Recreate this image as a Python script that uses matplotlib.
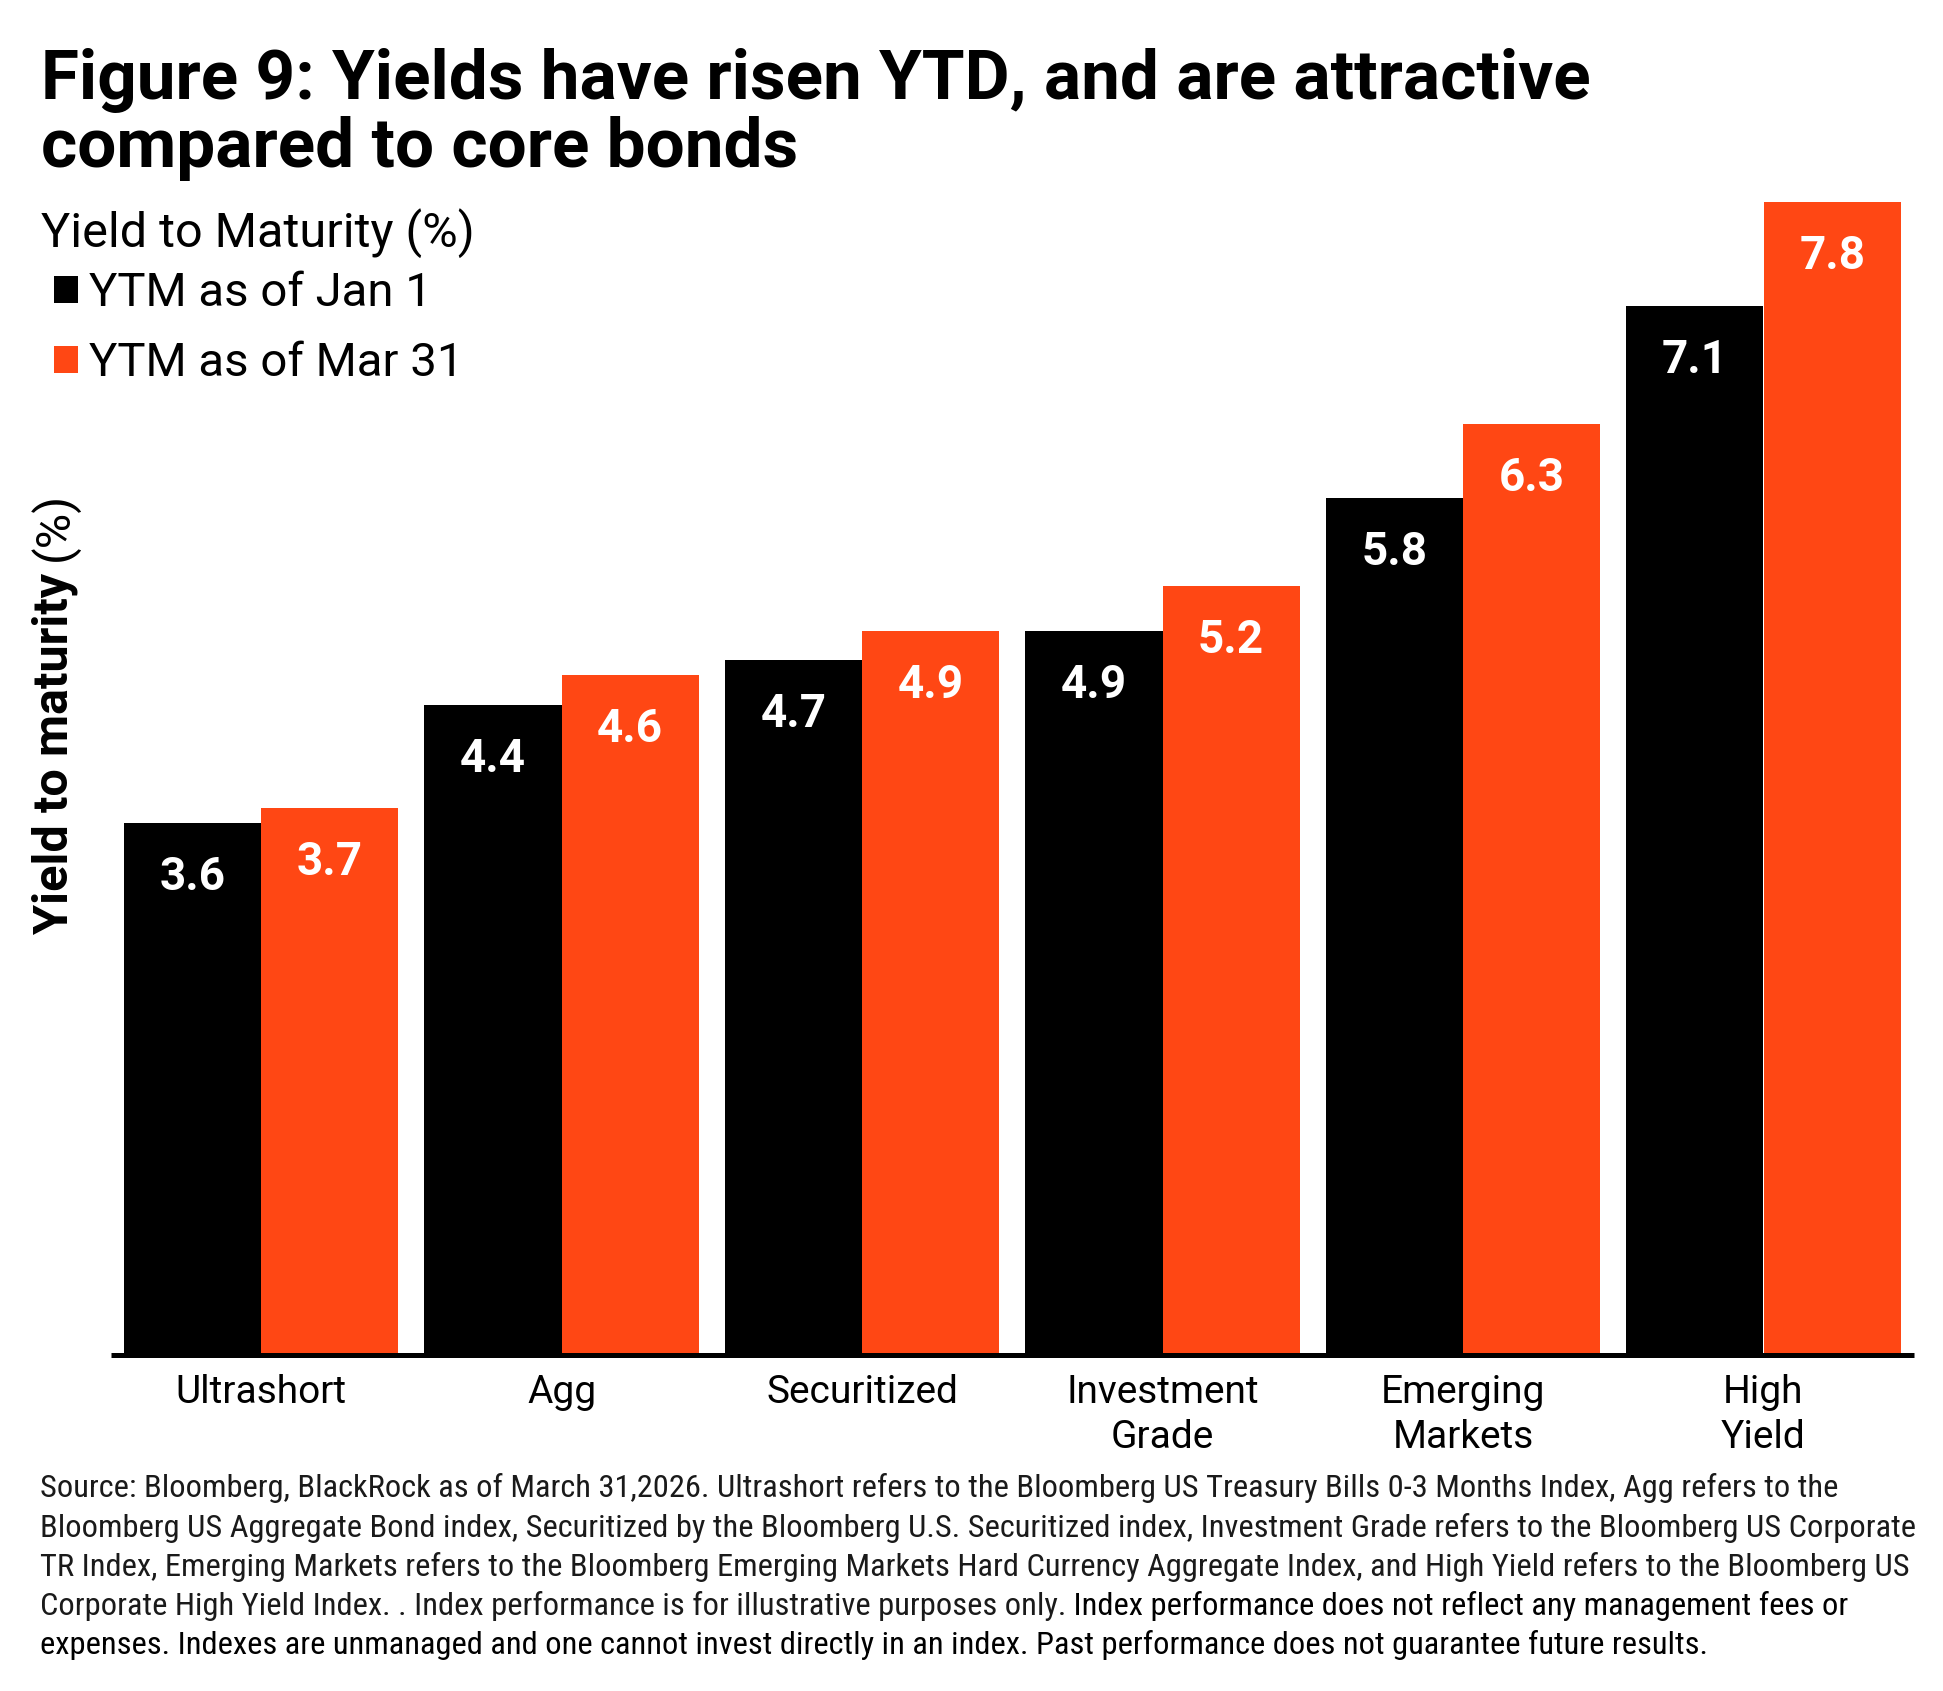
import matplotlib
matplotlib.use('Agg')
import numpy as np
import matplotlib.pyplot as plt
from matplotlib import font_manager


CATEGORIES = ['Ultrashort', 'Agg', 'Securitized', 'Investment\nGrade', 'Emerging\nMarkets', 'High\nYield']
YTM_JAN_1 = [3.6, 4.4, 4.7, 4.9, 5.8, 7.1]
YTM_MAR_31 = [3.7, 4.6, 4.9, 5.2, 6.3, 7.8]
SERIES_NAMES = ['YTM as of Jan 1', 'YTM as of Mar 31']

TITLE_LINES = ['Figure 9: Yields have risen YTD, and are attractive', 'compared to core bonds']
LEGEND_TITLE = 'Yield to Maturity (%)'
Y_LABEL_BOLD = 'Yield to maturity'
Y_LABEL_UNIT = '(%)'
FOOTNOTE_LINES = [
	'Source: Bloomberg, BlackRock as of March 31,2026. Ultrashort refers to the Bloomberg US Treasury Bills 0-3 Months Index, Agg refers to the',
	'Bloomberg US Aggregate Bond index, Securitized by the Bloomberg U.S. Securitized index, Investment Grade refers to the Bloomberg US Corporate',
	'TR Index, Emerging Markets refers to the Bloomberg Emerging Markets Hard Currency Aggregate Index, and High Yield refers to the Bloomberg US',
	'Corporate High Yield Index. . Index performance is for illustrative purposes only.',
	'expenses. Indexes are unmanaged and one cannot invest directly in an index. Past performance does not guarantee future results.',
]
FOOTNOTE_TAIL = ' Index performance does not reflect any management fees or'

WIDTH_PX, HEIGHT_PX = 1943, 1691
DPI = 100
ORANGE = '#ff4714'
BAR_WIDTH = 0.457
MAIN_FONT = 'Roboto'


def pick_footnote_font():
	'Prefer a condensed family for the long source note.'
	available = {entry.name for entry in font_manager.fontManager.ttflist}
	for name in ['Liberation Sans Narrow', 'Roboto Condensed', 'Roboto']:
		if name in available:
			return name
	return 'DejaVu Sans'


def fx(px):
	return px / WIDTH_PX


def fy(px_from_top):
	return 1 - px_from_top / HEIGHT_PX


def fit_to_width(text, target_px, renderer, vertical=False):
	'Scale the font so the text spans target_px.'
	extent = text.get_window_extent(renderer)
	span = extent.height if vertical else extent.width
	text.set_fontsize(text.get_fontsize() * target_px / span)


def main():
	fig = plt.figure(figsize=(WIDTH_PX / DPI, HEIGHT_PX / DPI), dpi=DPI)
	renderer = fig.canvas.get_renderer()
	ax = fig.add_axes([fx(110.75), fy(1355), 1803 / WIDTH_PX, 1212 / HEIGHT_PX])

	x = np.arange(len(CATEGORIES))
	jan_bars = ax.bar(x - BAR_WIDTH / 2, YTM_JAN_1, BAR_WIDTH, color='black', linewidth=0)
	mar_bars = ax.bar(x + BAR_WIDTH / 2, YTM_MAR_31, BAR_WIDTH, color=ORANGE, linewidth=0)

	for bars in (jan_bars, mar_bars):
		for rect in bars:
			ax.annotate(f'{rect.get_height():.1f}', xy=(rect.get_x() + rect.get_width() / 2, rect.get_height()),
						xytext=(0, -67), textcoords='offset pixels', ha='center', va='baseline',
						color='white', fontsize=33, fontweight='bold', family=MAIN_FONT)

	ax.set_xlim(-0.5, 5.5)
	ax.set_ylim(0, 8.2)
	ax.set_yticks([])
	ax.set_xticks(x, CATEGORIES)
	ax.tick_params(axis='x', length=0, pad=13.5)
	for label in ax.get_xticklabels():
		label.set_fontfamily(MAIN_FONT)
		label.set_fontsize(28)
		label.set_linespacing(1.28)
	for side in ['left', 'top', 'right']:
		ax.spines[side].set_visible(False)
	ax.spines['bottom'].set_linewidth(3.6)
	ax.spines['bottom'].set_capstyle('butt')

	# title, fitted to the width of the first line
	title_texts = []
	for line, base in zip(TITLE_LINES, [99, 167]):
		title_texts.append(fig.text(fx(41), fy(base), line, ha='left', va='baseline',
									fontsize=44, fontweight='bold', family=MAIN_FONT))
	fit_to_width(title_texts[0], 1549, renderer)
	title_texts[1].set_fontsize(title_texts[0].get_fontsize())

	fig.text(fx(41), fy(247), LEGEND_TITLE, ha='left', va='baseline', fontsize=35, family=MAIN_FONT)
	fig.legend([jan_bars, mar_bars], SERIES_NAMES, loc='upper left', bbox_to_anchor=(fx(54), fy(271)),
			   frameon=False, prop={'family': MAIN_FONT, 'size': 34}, handlelength=0.5, handleheight=0.5,
			   handletextpad=0.25, labelspacing=0.56, borderpad=0, borderaxespad=0)

	# rotated axis label: bold words then a regular unit
	ylab = fig.text(fx(68), fy(934), Y_LABEL_BOLD, rotation=90, rotation_mode='anchor', ha='left',
					va='baseline', fontsize=32, fontweight='bold', family=MAIN_FONT)
	fit_to_width(ylab, 362, renderer, vertical=True)
	ax.annotate(Y_LABEL_UNIT, xy=(fx(68), 1), xycoords=('figure fraction', ylab), xytext=(0, 12),
				textcoords='offset pixels', rotation=90, rotation_mode='anchor', ha='left', va='baseline',
				fontsize=ylab.get_fontsize(), family=MAIN_FONT, annotation_clip=False)

	foot_font = pick_footnote_font()
	foot_texts = []
	for line, base in zip(FOOTNOTE_LINES, [1497, 1537, 1576, 1615, 1654]):
		foot_texts.append(fig.text(fx(40), fy(base), line, ha='left', va='baseline', fontsize=22,
								   family=foot_font, color='#1a1a1a'))
	fit_to_width(foot_texts[1], 1873, renderer)
	for text in foot_texts:
		text.set_fontsize(foot_texts[1].get_fontsize())
	foot_texts[4].set_color('black')
	ax.annotate(FOOTNOTE_TAIL, xy=(1, fy(1615)), xycoords=(foot_texts[3], 'figure fraction'),
				ha='left', va='baseline', fontsize=foot_texts[1].get_fontsize(), family=foot_font,
				color='black', annotation_clip=False)

	fig.savefig('out.png', dpi=DPI, facecolor='white')


if __name__ == '__main__':
	main()
